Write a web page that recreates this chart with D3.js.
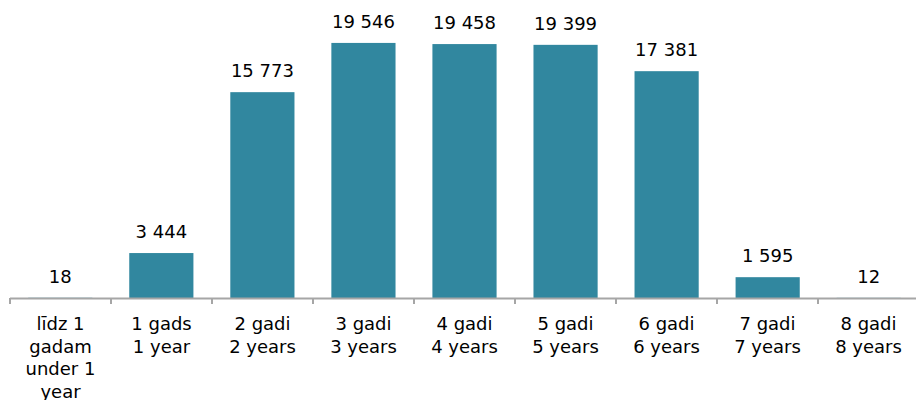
<!DOCTYPE html>
<html><head><meta charset="utf-8">
<script src="https://cdn.jsdelivr.net/npm/d3@7"></script>
<style>body{margin:0;background:#fff}svg{display:block}</style>
</head><body>
<svg id="c" width="916" height="400"></svg>
<script>
const categories = [["līdz 1","gadam","under 1","year"],["1 gads","1 year"],["2 gadi","2 years"],["3 gadi","3 years"],["4 gadi","4 years"],["5 gadi","5 years"],["6 gadi","6 years"],["7 gadi","7 years"],["8 gadi","8 years"]];
const values = [18, 3444, 15773, 19546, 19458, 19399, 17381, 1595, 12];
const labels = ["18","3 444","15 773","19 546","19 458","19 399","17 381","1 595","12"];

const svg = d3.select("#c");
const x = d3.scaleBand().domain(d3.range(values.length)).range([10, 919]).paddingInner(0.365).paddingOuter(0.18);
const y = d3.scaleLinear().domain([0, 20000]).range([298, 37]);
const font = "DejaVu Sans, Verdana, sans-serif";

svg.selectAll("rect.bar").data(values).join("rect")
  .attr("x", (d,i)=>x(i)).attr("width", x.bandwidth())
  .attr("y", d=>y(d)).attr("height", d=>y(0)-y(d))
  .attr("fill", "#31879f");

svg.selectAll("text.val").data(values).join("text")
  .attr("x", (d,i)=>x(i)+x.bandwidth()/2).attr("y", d=>y(d)-15)
  .attr("text-anchor","middle").attr("font-family",font).attr("font-size",18).attr("fill","#000")
  .text((d,i)=>labels[i]);

// axis
const step = 101;
const ticks = d3.range(values.length+1).map(i=>10+i*step);
svg.append("line").attr("x1",10).attr("x2",916).attr("y1",298.5).attr("y2",298.5).attr("stroke","#a6a6a6").attr("stroke-width",2);
svg.selectAll("line.tick").data(ticks).join("line")
  .attr("x1",d=>d).attr("x2",d=>d).attr("y1",298).attr("y2",304).attr("stroke","#a6a6a6").attr("stroke-width",2);

const g = svg.selectAll("text.cat").data(categories).join("text")
  .attr("x",(d,i)=>10+step*(i+0.5)).attr("text-anchor","middle")
  .attr("font-family",font).attr("font-size",18).attr("fill","#000");
g.selectAll("tspan").data(d=>d).join("tspan")
  .attr("x", function(){return this.parentNode.getAttribute("x");})
  .attr("y",(d,j)=>330+j*22.5).text(d=>d);
</script>
</body></html>
